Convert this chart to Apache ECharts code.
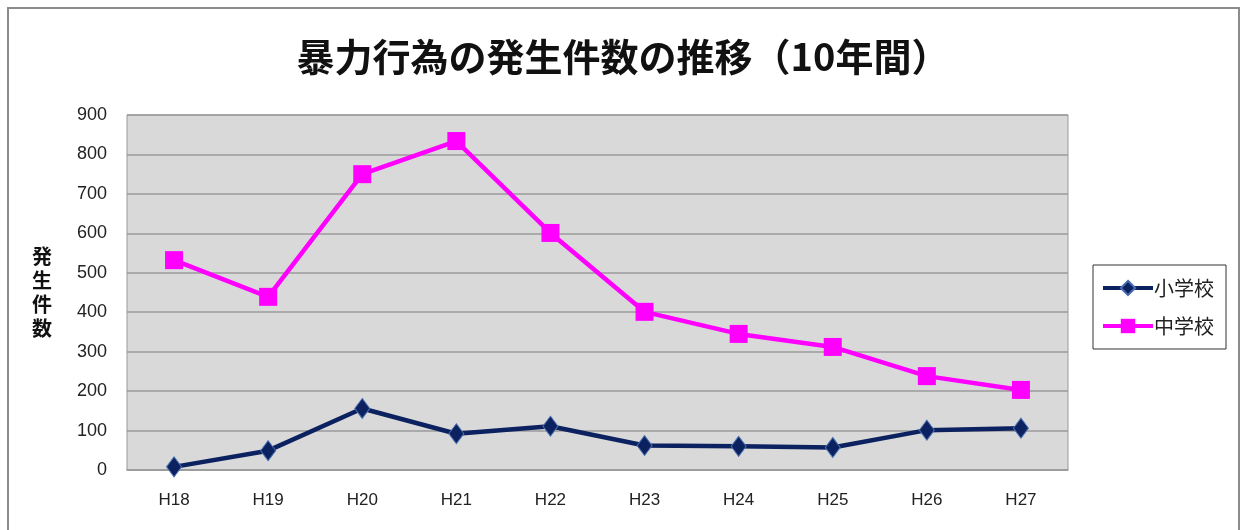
<!DOCTYPE html>
<html><head><meta charset="utf-8">
<script src="https://cdn.jsdelivr.net/npm/echarts@6/dist/echarts.min.js"></script>
<style>html,body{margin:0;padding:0;background:#fff}#c{width:1246px;height:530px}</style>
</head><body><div id="c"></div>
<script>
const categories = ['H18','H19','H20','H21','H22','H23','H24','H25','H26','H27'];
const elementary = [8, 49, 156, 92, 111, 62, 60, 57, 101, 106];
const juniorHigh = [532, 439, 750, 834, 601, 401, 345, 312, 238, 203];
const seriesNames = ['小学校', '中学校'];
const titleText = '暴力行為の発生件数の推移（10年間）';
const yAxisName = '発\n生\n件\n数';

const chart = echarts.init(document.getElementById('c'));
chart.setOption({
  animation: false,
  backgroundColor: '#fff',
  graphic: [{
    type: 'rect', shape: { x: 8, y: 8, width: 1231, height: 540 },
    style: { fill: 'none', stroke: '#8c8c8c', lineWidth: 2 }, z: -1
  }],
  title: {
    text: titleText, left: 'center', top: 33,
    textStyle: { fontFamily: 'Noto Sans CJK JP', fontWeight: 'bold', fontSize: 38, color: '#111' }
  },
  grid: { left: 127, right: 178, top: 115, bottom: 60, show: true, backgroundColor: '#d9d9d9', borderColor: '#9a9a9a', borderWidth: 1 },
  legend: {
    orient: 'vertical', left: 1093, top: 265,
    padding: [13, 12, 13, 8], itemGap: 18, itemWidth: 50, itemHeight: 18,
    borderColor: '#333', borderWidth: 1, backgroundColor: '#fff',
    lineStyle: { width: 4 },
    textStyle: { fontFamily: 'Noto Sans CJK JP', fontSize: 20, color: '#222', padding: [0, 0, 0, -4] },
    data: seriesNames
  },
  xAxis: {
    type: 'category', data: categories, boundaryGap: true,
    axisLine: { show: true, lineStyle: { color: '#9a9a9a', width: 1.5 } },
    axisTick: { show: false },
    axisLabel: { margin: 22, fontFamily: 'Liberation Sans', fontSize: 17, color: '#222' }
  },
  yAxis: {
    type: 'value', min: 0, max: 900, interval: 100,
    name: yAxisName, nameLocation: 'middle', nameRotate: 0, nameGap: 75,
    nameTextStyle: { fontFamily: 'Noto Sans CJK JP', fontWeight: 'bold', fontSize: 20, color: '#111', lineHeight: 24 },
    axisLine: { show: false }, axisTick: { show: false },
    axisLabel: { margin: 20, fontFamily: 'Liberation Sans', fontSize: 18, color: '#222' },
    splitLine: { lineStyle: { color: '#9a9a9a', width: 1.5 } }
  },
  series: [
    {
      name: seriesNames[0], type: 'line', data: elementary,
      symbol: 'diamond', symbolSize: [15, 20],
      lineStyle: { color: '#0b2160', width: 4.5 },
      itemStyle: { color: '#0b2160', borderColor: '#4a6fb0', borderWidth: 1 }
    },
    {
      name: seriesNames[1], type: 'line', data: juniorHigh,
      symbol: 'rect', symbolSize: 18,
      lineStyle: { color: '#ff00ff', width: 4.5 },
      itemStyle: { color: '#ff00ff' }
    }
  ]
});
</script></body></html>
